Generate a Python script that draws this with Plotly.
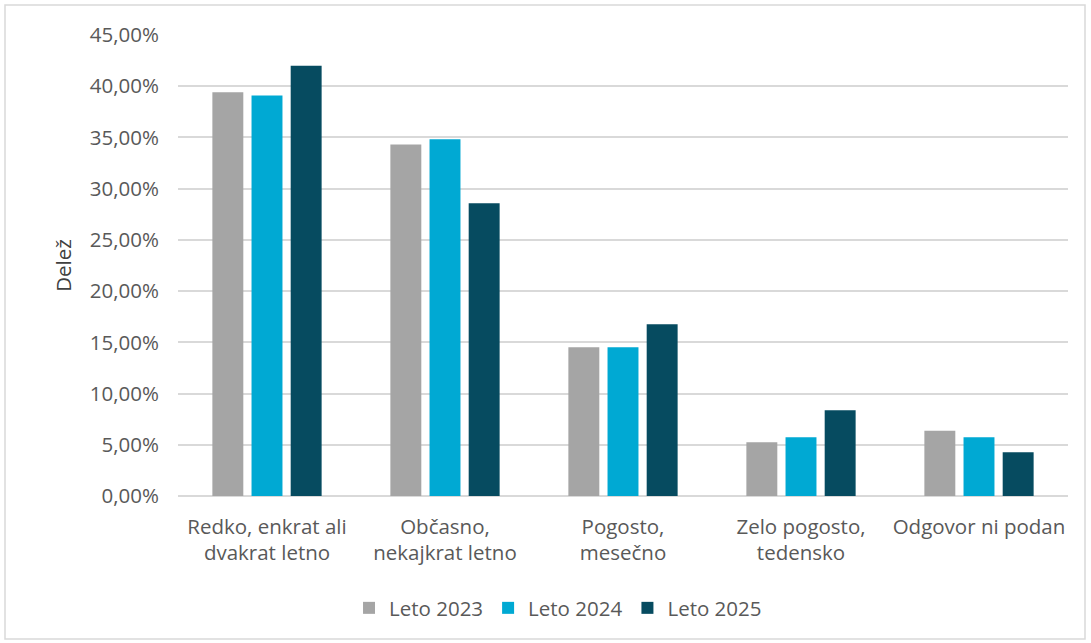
import plotly.graph_objects as go

categories = [
    "Redko, enkrat ali<br>dvakrat letno",
    "Občasno,<br>nekajkrat letno",
    "Pogosto,<br>mesečno",
    "Zelo pogosto,<br>tedensko",
    "Odgovor ni podan",
]
series_names = ["Leto 2023", "Leto 2024", "Leto 2025"]
values_2023 = [39.42, 34.30, 14.52, 5.24, 6.38]
values_2024 = [39.09, 34.83, 14.52, 5.73, 5.73]
values_2025 = [41.99, 28.58, 16.77, 8.37, 4.27]
colors = ["#A5A5A5", "#00A9D3", "#064B60"]

tick_vals = [0, 5, 10, 15, 20, 25, 30, 35, 40, 45]
tick_text = [f"{v:.2f}".replace(".", ",") + "%" for v in tick_vals]

W, H = 1091, 643
L, R, T, B = 178, 23, 35, 147
FS = 20.5

fig = go.Figure()
for name, vals, col in zip(series_names, [values_2023, values_2024, values_2025], colors):
    fig.add_trace(go.Bar(x=categories, y=vals, name=name, marker_color=col,
                         marker_line_width=0))

font_family = "Open Sans, Liberation Sans, sans-serif"
pw, ph = W - L - R, H - T - B
fig.update_layout(
    width=W, height=H,
    margin=dict(l=L, r=R, t=T, b=B),
    paper_bgcolor="white", plot_bgcolor="white",
    barmode="group", bargap=0.34, bargroupgap=0.21,
    font=dict(family=font_family, size=FS, color="#595959"),
    xaxis=dict(showgrid=False, showline=False, ticks="", ticklabelstandoff=16,
               tickfont=dict(size=FS, color="#595959")),
    yaxis=dict(range=[0, 45], tickvals=tick_vals, ticktext=tick_text,
               showgrid=True, gridcolor="#D9D9D9", gridwidth=1.5,
               zeroline=True, zerolinecolor="#D9D9D9", zerolinewidth=1.5,
               ticks="", ticklen=0, ticklabelstandoff=18,
               tickfont=dict(size=FS, color="#595959"),
               title=dict(text="Delež", font=dict(size=FS, color="#404040"), standoff=12)),
    legend=dict(orientation="h", x=0.427, xanchor="center", y=-0.243, yanchor="middle",
                font=dict(size=FS, color="#595959"), itemwidth=30, traceorder="normal"),
    shapes=[dict(type="rect", xref="paper", yref="paper",
                 x0=(5 - L) / pw, x1=(1085 - L) / pw,
                 y0=(H - B - 639) / ph, y1=(H - B - 5) / ph,
                 line=dict(color="#D9D9D9", width=1.5), fillcolor="rgba(0,0,0,0)")],
)

fig.write_html("out.html")
